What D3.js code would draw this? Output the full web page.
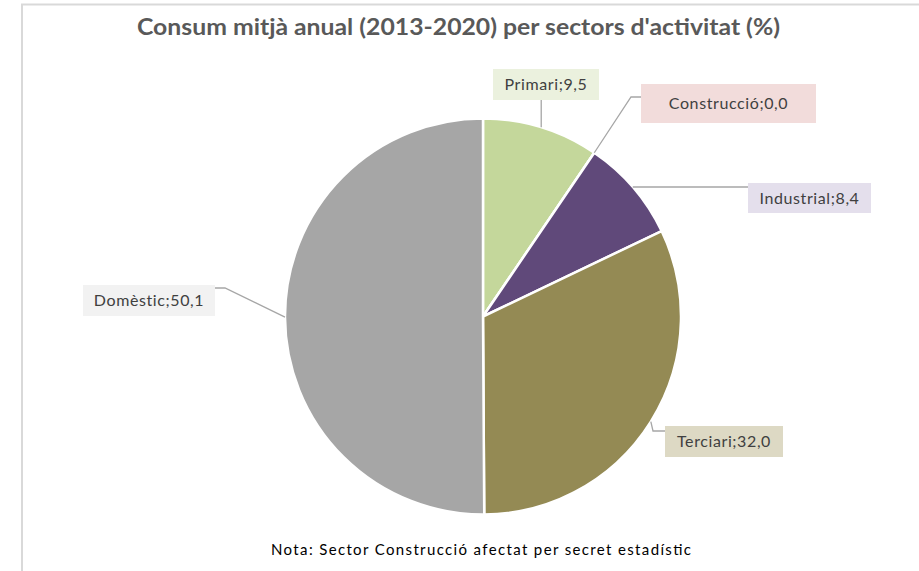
<!DOCTYPE html>
<html>
<head>
<meta charset="utf-8">
<script src="https://cdn.jsdelivr.net/npm/d3@7"></script>
<style>
  html, body { margin: 0; padding: 0; background: #fff; }
  svg { display: block; }
</style>
</head>
<body>
<svg id="chart" width="919" height="571"></svg>
<script>
// ---- data ----
const categories = ["Primari", "Construcció", "Industrial", "Terciari", "Domèstic"];
const values = [9.5, 0.0, 8.4, 32.0, 50.1];
const sliceColors = ["#c4d79b", "#f2dcdb", "#60497a", "#948a54", "#a6a6a6"];
const labelFills = ["#ebf1de", "#f2dcdb", "#e4dfec", "#ddd9c4", "#f2f2f2"];
const titleText = "Consum mitjà anual (2013-2020) per sectors d'activitat (%)";
const noteText = "Nota: Sector Construcció afectat per secret estadístic";

// ---- layout (positions) ----
const W = 919, H = 571;
const cx = 483, cy = 316.5, R = 198;
const labelLayout = {
  "Primari":     { x: 493, y: 69,  w: 106, h: 31, path: "vertical" },
  "Construcció": { x: 641, y: 84,  w: 175, h: 39, elbow: [631, 97], end: [641, 97] },
  "Industrial":  { x: 748, y: 183, w: 123, h: 30, path: "horizontal", yLine: 187 },
  "Terciari":    { x: 665, y: 426, w: 118, h: 31, elbow: [653, 431], end: [665, 431] },
  "Domèstic":    { x: 83,  y: 285, w: 132, h: 31, elbow: [225, 288], end: [215, 288] }
};

const svg = d3.select("#chart");
svg.append("rect").attr("width", W).attr("height", H).attr("fill", "#fff");

// frame lines
svg.append("path")
  .attr("d", `M22,${H} L22,4.5 L${W},4.5`)
  .attr("fill", "none").attr("stroke", "#d9d9d9").attr("stroke-width", 2);

// title
svg.append("text")
  .attr("x", 458.5).attr("y", 35)
  .attr("text-anchor", "middle")
  .attr("font-family", "Lato, 'Open Sans', sans-serif")
  .attr("font-weight", "bold")
  .attr("font-size", 23)
  .attr("fill", "#595959")
  .attr("textLength", 643)
  .attr("lengthAdjust", "spacingAndGlyphs")
  .text(titleText);

const data = categories.map((c, i) => ({ name: c, value: values[i], color: sliceColors[i], fill: labelFills[i] }));

const pie = d3.pie().sort(null).value(d => d.value);
const arcs = pie(data);
const arc = d3.arc().innerRadius(0).outerRadius(R);

const g = svg.append("g").attr("transform", `translate(${cx},${cy})`);
g.selectAll("path.slice")
  .data(arcs)
  .join("path")
  .attr("class", "slice")
  .attr("d", arc)
  .attr("fill", d => d.data.color)
  .attr("stroke", "#fff")
  .attr("stroke-width", 2.5)
  .attr("stroke-linejoin", "round");

const fmt = v => d3.format(".1f")(v).replace(".", ",");

arcs.forEach(a => {
  const L = labelLayout[a.data.name];
  const mid = (a.startAngle + a.endAngle) / 2;
  let sx = cx + R * Math.sin(mid);
  let sy = cy - R * Math.cos(mid);
  let pts;
  if (L.path === "vertical") {
    pts = [[sx, sy], [sx, L.y + L.h]];
  } else if (L.path === "horizontal") {
    const yy = L.yLine;
    sx = cx + Math.sqrt(R * R - (yy - cy) * (yy - cy));
    pts = [[sx, yy], [L.x, yy]];
  } else {
    pts = [[sx, sy], L.elbow, L.end];
  }
  svg.append("path")
    .attr("d", d3.line()(pts))
    .attr("fill", "none")
    .attr("stroke", "#a6a6a6")
    .attr("stroke-width", 1.3);

  svg.append("rect")
    .attr("x", L.x).attr("y", L.y).attr("width", L.w).attr("height", L.h)
    .attr("fill", a.data.fill);
  svg.append("text")
    .attr("x", L.x + L.w / 2).attr("y", L.y + L.h / 2 + 5.5)
    .attr("text-anchor", "middle")
    .attr("font-family", "Lato, 'Open Sans', sans-serif")
    .attr("font-size", 16)
    .attr("letter-spacing", 0.6)
    .attr("fill", "#404040")
    .text(`${a.data.name};${fmt(a.data.value)}`);
});

// note
svg.append("text")
  .attr("x", 481).attr("y", 555)
  .attr("text-anchor", "middle")
  .attr("font-family", "Lato, 'Open Sans', sans-serif")
  .attr("font-size", 15)
  .attr("fill", "#000")
  .attr("textLength", 420)
  .attr("lengthAdjust", "spacing")
  .text(noteText);
</script>
</body>
</html>
